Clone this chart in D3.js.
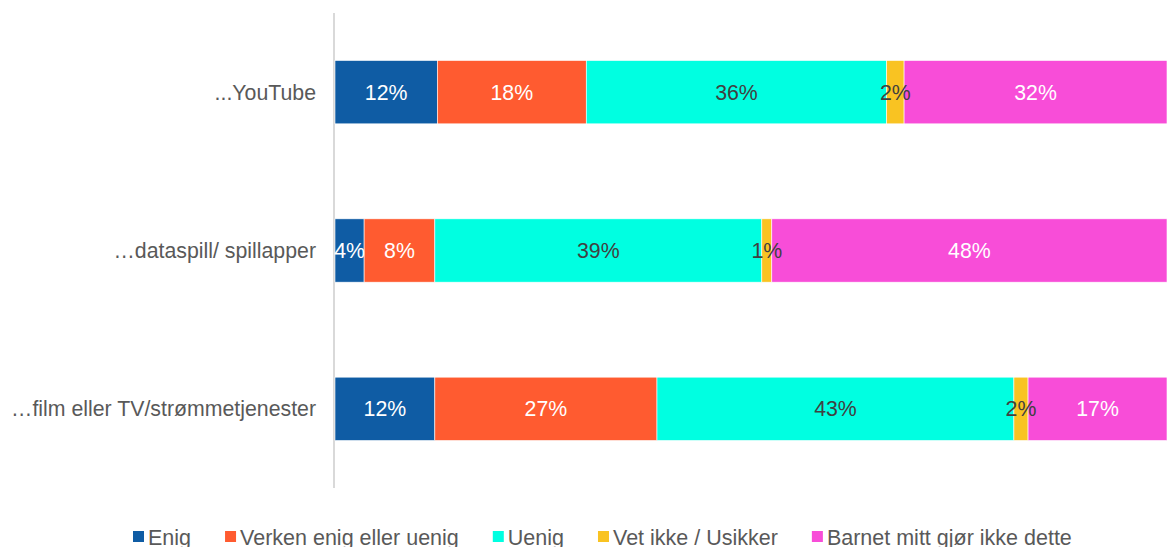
<!DOCTYPE html>
<html>
<head>
<meta charset="utf-8">
<script src="https://d3js.org/d3.v7.min.js"></script>
<style>
  body { margin: 0; background: #fff; }
  text { font-family: "Liberation Sans", Arial, sans-serif; }
</style>
</head>
<body>
<svg width="1167" height="547"></svg>
<script>
var categories = ["...YouTube", "\u2026dataspill/ spillapper", "\u2026film eller TV/str\u00f8mmetjenester"];
var seriesNames = ["Enig", "Verken enig eller uenig", "Uenig", "Vet ikke / Usikker", "Barnet mitt gj\u00f8r ikke dette"];
var colors = ["#0f5ca4", "#ff5b30", "#00ffe1", "#f9c322", "#f84dd8"];
var labelColors = ["#ffffff", "#ffffff", "#404040", "#404040", "#ffffff"];
// share per category, series in order above
var enig = [12.3, 3.5, 12.0];
var verken = [17.9, 8.5, 26.7];
var uenig = [36.1, 39.3, 42.9];
var vetIkke = [2.1, 1.2, 1.7];
var barnet = [31.6, 47.5, 16.7];
var labels = [
  ["12%", "18%", "36%", "2%", "32%"],
  ["4%", "8%", "39%", "1%", "48%"],
  ["12%", "27%", "43%", "2%", "17%"]
];

var svg = d3.select("svg");
var series = [enig, verken, uenig, vetIkke, barnet];

var x = d3.scaleLinear().domain([0, 100]).range([335, 1167]);
var y = d3.scaleBand().domain(categories).range([13, 488]).paddingInner(0.6).paddingOuter(0.3);

// axis line
svg.append("line")
    .attr("x1", 334).attr("x2", 334)
    .attr("y1", 13).attr("y2", 488)
    .attr("stroke", "#d9d9d9").attr("stroke-width", 2);

var rows = categories.map(function(c, i) {
    var acc = 0;
    return series.map(function(s, j) {
        var d = {cat: c, j: j, x0: acc, x1: acc + s[i], label: labels[i][j]};
        acc += s[i];
        return d;
    });
});
var segs = [].concat.apply([], rows);

svg.selectAll(".seg")
    .data(segs)
    .enter().append("rect")
    .attr("class", "seg")
    .attr("x", function(d) { return x(d.x0); })
    .attr("y", function(d) { return y(d.cat); })
    .attr("width", function(d) { return x(d.x1) - x(d.x0); })
    .attr("height", y.bandwidth())
    .attr("fill", function(d) { return colors[d.j]; })
    .attr("stroke", "#ffffff")
    .attr("stroke-width", 0.6);

svg.selectAll(".lbl")
    .data(segs)
    .enter().append("text")
    .attr("class", "lbl")
    .attr("x", function(d) { return (x(d.x0) + x(d.x1)) / 2; })
    .attr("y", function(d) { return y(d.cat) + y.bandwidth() / 2; })
    .attr("dy", "0.35em")
    .attr("text-anchor", "middle")
    .attr("font-size", 21.3)
    .attr("fill", function(d) { return labelColors[d.j]; })
    .text(function(d) { return d.label; });

svg.selectAll(".cat")
    .data(categories)
    .enter().append("text")
    .attr("class", "cat")
    .attr("x", 316)
    .attr("y", function(d) { return y(d) + y.bandwidth() / 2; })
    .attr("dy", "0.35em")
    .attr("text-anchor", "end")
    .attr("font-size", 21.3)
    .attr("fill", "#595959")
    .text(function(d) { return d; });

// legend
var legend = svg.append("g");
var lx = 133;
seriesNames.forEach(function(name, j) {
    legend.append("rect")
        .attr("x", lx).attr("y", 531)
        .attr("width", 11).attr("height", 11)
        .attr("fill", colors[j]);
    var t = legend.append("text")
        .attr("x", lx + 15).attr("y", 545)
        .attr("font-size", 21.5)
        .attr("fill", "#595959")
        .text(name);
    lx += 15 + t.node().getComputedTextLength() + 34;
});
</script>
</body>
</html>
